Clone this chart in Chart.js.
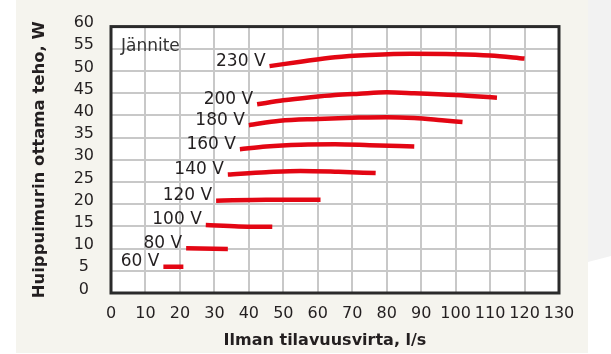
<!DOCTYPE html>
<html>
<head>
<meta charset="utf-8">
<script src="https://cdn.jsdelivr.net/npm/chart.js"></script>
<style>
    body { margin: 0; background: #ffffff; }
    .page { position: relative; width: 611px; height: 354px; overflow: hidden; }
    .panel { position: absolute; left: 16px; top: 0; width: 572px; height: 353px; background: #f5f4ee; }
    .side { position: absolute; left: 588px; top: 0; width: 23px; height: 354px; background: #f2f2f2;
            clip-path: polygon(0 0, 100% 0, 100% 256px, 0 262px); }
    canvas { position: absolute; left: 0; top: 0; }
</style>
</head>
<body>
<div class="page">
    <div class="panel"></div>
    <div class="side"></div>
    <canvas id="powerChart" width="611" height="354"></canvas>
</div>

<script>
    // fan input power vs air flow, one curve per supply voltage
    const voltages = ['60 V', '80 V', '100 V', '120 V', '140 V', '160 V', '180 V', '200 V', '230 V'];

    const flow60 = [15.2, 21];
    const power60 = [5.9, 5.9];
    const flow80 = [21.8, 33.9];
    const power80 = [10.1, 9.9];
    const flow100 = [27.5, 37, 46.8];
    const power100 = [15.3, 15.0, 14.9];
    const flow120 = [30.5, 45, 60.8];
    const power120 = [20.8, 21.0, 21.0];
    const flow140 = [33.9, 45, 55, 66, 76.8];
    const power140 = [26.7, 27.2, 27.5, 27.3, 27.0];
    const flow160 = [37.4, 45, 55, 65, 75, 88];
    const power160 = [32.4, 33.0, 33.4, 33.5, 33.3, 33.0];
    const flow180 = [40, 49, 60, 72, 80, 88, 96, 102];
    const power180 = [37.8, 38.8, 39.2, 39.5, 39.6, 39.4, 38.9, 38.5];
    const flow200 = [42.4, 50, 58, 65, 72, 80, 88, 100, 112];
    const power200 = [42.5, 43.4, 44.1, 44.6, 44.9, 45.2, 45.0, 44.6, 44.0];
    const flow230 = [46, 55, 65, 75, 87, 100, 110, 120];
    const power230 = [51.1, 52.1, 53.1, 53.6, 53.9, 53.8, 53.5, 52.8];

    const flows = [flow60, flow80, flow100, flow120, flow140, flow160, flow180, flow200, flow230];
    const powers = [power60, power80, power100, power120, power140, power160, power180, power200, power230];

    const xTitle = 'Ilman tilavuusvirta, l/s';
    const yTitle = 'Huippuimurin ottama teho, W';
    const legendTitle = 'Jännite';

    const FONT = '"DejaVu Sans", sans-serif';
    const TEXT = '#231f20';
    const RED = '#e30613';

    const datasets = voltages.map((v, i) => ({
        label: v,
        data: flows[i].map((x, j) => ({x: x, y: powers[i][j]})),
        borderColor: RED,
        borderWidth: 4.5,
        borderCapStyle: 'butt',
        pointRadius: 0,
        fill: false,
        tension: 0.4,
        cubicInterpolationMode: 'monotone'
    }));

    // white plot area, dark frame, voltage labels and the x title
    const decorations = {
        id: 'decorations',
        beforeDraw(chart) {
            const {ctx, chartArea: a} = chart;
            ctx.save();
            ctx.fillStyle = '#ffffff';
            ctx.fillRect(a.left, a.top, a.right - a.left, a.bottom - a.top);
            ctx.restore();
        },
        afterDraw(chart) {
            const {ctx, chartArea: a, scales} = chart;
            ctx.save();
            ctx.strokeStyle = '#2a2a2a';
            ctx.lineWidth = 3;
            ctx.strokeRect(a.left, a.top, a.right - a.left, a.bottom - a.top);

            ctx.fillStyle = TEXT;
            ctx.font = '17px ' + FONT;
            ctx.textAlign = 'right';
            ctx.textBaseline = 'middle';
            chart.data.datasets.forEach((ds) => {
                const p = ds.data[0];
                ctx.fillText(ds.label, scales.x.getPixelForValue(p.x) - 4, scales.y.getPixelForValue(p.y) - 5);
            });

            ctx.font = '17px ' + FONT;
            ctx.textAlign = 'left';
            ctx.fillStyle = '#333333';
            ctx.fillText(legendTitle, a.left + 10, scales.y.getPixelForValue(55.5));

            ctx.font = 'bold 16px ' + FONT;
            ctx.textAlign = 'center';
            ctx.fillStyle = TEXT;
            ctx.fillText(xTitle, 325, 341);
            ctx.restore();
        }
    };

    const powerChart = new Chart(document.getElementById('powerChart'), {
        type: 'line',
        data: {datasets: datasets},
        plugins: [decorations],
        options: {
            responsive: false,
            animation: false,
            layout: {padding: {left: 0, top: 17, right: 52, bottom: 0}},
            plugins: {
                legend: {display: false},
                tooltip: {enabled: false}
            },
            scales: {
                x: {
                    type: 'linear',
                    min: 0,
                    max: 130,
                    afterFit: (s) => { s.height = 61; },
                    grid: {color: '#c8c8c8', lineWidth: 2, drawTicks: false},
                    border: {display: false},
                    ticks: {
                        stepSize: 10,
                        padding: 11,
                        color: TEXT,
                        maxRotation: 0,
                        autoSkip: false,
                        font: {family: FONT, size: 16}
                    }
                },
                y: {
                    min: 0,
                    max: 60,
                    afterFit: (s) => { s.width = 111; },
                    grid: {color: '#c8c8c8', lineWidth: 2, drawTicks: false},
                    border: {display: false},
                    title: {
                        display: true,
                        text: yTitle,
                        color: TEXT,
                        padding: {top: 30, bottom: 0},
                        font: {family: FONT, size: 16.5, weight: 'bold'}
                    },
                    ticks: {
                        stepSize: 5,
                        padding: 17,
                        crossAlign: 'center',
                        labelOffset: -3.5,
                        autoSkip: false,
                        color: TEXT,
                        font: {family: FONT, size: 16}
                    }
                }
            }
        }
    });
</script>
</body>
</html>
